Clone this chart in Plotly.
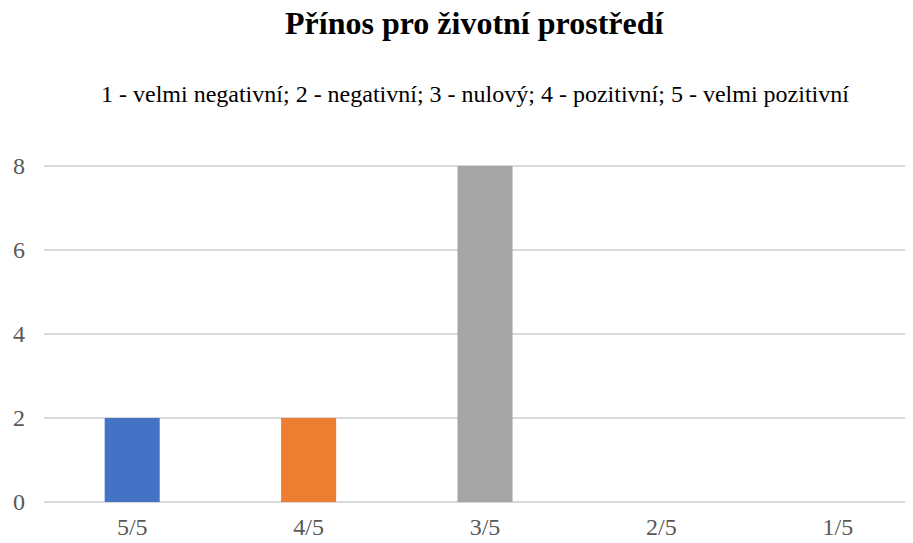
import plotly.graph_objects as go

categories = ["5/5", "4/5", "3/5", "2/5", "1/5"]
values = [2, 2, 8, 0, 0]
colors = ["#4472C4", "#ED7D31", "#A5A5A5", "#FFC000", "#5B9BD5"]
y_ticks = [0, 2, 4, 6, 8]

title_text = "Přínos pro životní prostředí"
subtitle_text = "1 - velmi negativní; 2 - negativní; 3 - nulový; 4 - pozitivní; 5 - velmi pozitivní"

# page has an 8px body margin; figure is sized to fit the window
OFF = 8
W, H = 913 - OFF, 543 - OFF
ml, mr, mt, mb = 36, 0, 152, 41
pw, ph = W - ml - mr, H - mt - mb


def px(xp):
    return (xp - OFF - ml) / pw


def py(yp):
    return (H - mb - (yp - OFF)) / ph


FONT = "Liberation Serif, Times New Roman, serif"

fig = go.Figure()
fig.add_trace(go.Bar(
    x=list(range(len(categories))),
    y=values,
    marker=dict(color=colors, line=dict(width=0)),
    width=0.312,
    hoverinfo="x+y",
))

fig.update_layout(
    width=W, height=H,
    margin=dict(l=ml, r=mr, t=mt, b=mb),
    paper_bgcolor="white",
    plot_bgcolor="white",
    showlegend=False,
    font=dict(family=FONT, color="#595959", size=24),
    xaxis=dict(
        tickmode="array",
        tickvals=list(range(len(categories))),
        ticktext=categories,
        range=[-0.5, 4.426],
        showgrid=False,
        zeroline=False,
        showline=False,
        ticks="",
        ticklabelstandoff=8,
    ),
    yaxis=dict(
        tickmode="array",
        tickvals=y_ticks,
        range=[0, 8.143],
        showgrid=True,
        gridcolor="#D9D9D9",
        gridwidth=1.5,
        zeroline=True,
        zerolinecolor="#D9D9D9",
        zerolinewidth=1.5,
        showline=False,
        ticks="",
        ticklabelstandoff=18,
    ),
    annotations=[
        dict(text="<b>" + title_text + "</b>", x=px(474), y=py(23), xref="paper", yref="paper",
             xanchor="center", yanchor="middle", showarrow=False,
             font=dict(family=FONT, size=32, color="#000000")),
        dict(text=subtitle_text, x=px(474.5), y=py(93.5), xref="paper", yref="paper",
             xanchor="center", yanchor="middle", showarrow=False,
             font=dict(family=FONT, size=24, color="#000000")),
    ],
)

fig.write_html("out.html")
